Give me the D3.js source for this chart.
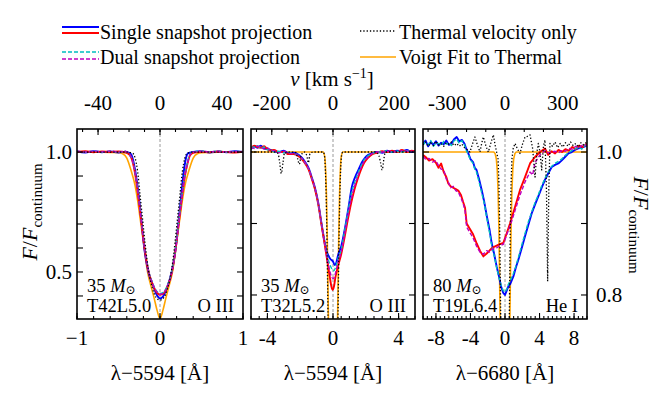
<!DOCTYPE html>
<html>
<head>
<meta charset="utf-8">
<script src="https://cdn.jsdelivr.net/npm/d3@7"></script>
<style>
  body { margin: 0; background: #fff; }
</style>
</head>
<body>
<div id="chart"></div>
<script>
// ---- datos ([Δλ en Å, F/Fcont]) ----

// Panel 1: O III, T42L5.0
const p1Blue = [[-1,1.002],[-0.9,0.998],[-0.8,1.003],[-0.7,0.999],[-0.6,1.002],[-0.5,0.998],[-0.42,1.001],[-0.36,0.995],[-0.34,0.985],[-0.30,0.925],[-0.25,0.80],[-0.22,0.70],[-0.19,0.60],[-0.14,0.50],[-0.08,0.44],[-0.04,0.405],[0,0.39],[0.04,0.40],[0.08,0.43],[0.14,0.50],[0.19,0.60],[0.22,0.70],[0.25,0.80],[0.28,0.90],[0.31,0.97],[0.34,0.995],[0.4,1.0],[0.5,1.003],[0.6,0.998],[0.7,1.002],[0.8,0.999],[0.9,1.003],[1,1.0]];
const p1Red = [[-1,1.0],[-0.9,1.003],[-0.8,0.999],[-0.7,1.002],[-0.6,1.0],[-0.5,1.002],[-0.42,0.998],[-0.37,0.99],[-0.33,0.96],[-0.30,0.91],[-0.26,0.81],[-0.225,0.71],[-0.19,0.61],[-0.15,0.52],[-0.09,0.45],[-0.04,0.415],[0,0.405],[0.04,0.41],[0.09,0.44],[0.15,0.51],[0.19,0.60],[0.225,0.70],[0.26,0.80],[0.30,0.90],[0.33,0.95],[0.36,0.985],[0.4,0.997],[0.5,1.001],[0.6,0.999],[0.7,1.002],[0.8,1.0],[0.9,0.998],[1,1.001]];
const p1Cyan = [[-1,1.004],[-0.9,0.999],[-0.8,1.004],[-0.7,1.0],[-0.6,1.003],[-0.5,0.999],[-0.42,1.002],[-0.37,0.99],[-0.33,0.962],[-0.30,0.915],[-0.26,0.815],[-0.225,0.715],[-0.19,0.615],[-0.15,0.525],[-0.09,0.455],[-0.04,0.42],[0,0.41],[0.04,0.415],[0.09,0.445],[0.15,0.515],[0.19,0.605],[0.225,0.705],[0.26,0.805],[0.30,0.905],[0.33,0.955],[0.36,0.99],[0.4,1.0],[0.5,1.004],[0.6,1.0],[0.7,1.004],[0.8,0.999],[0.9,1.003],[1,1.0]];
const p1Magenta = [[-1,1.003],[-0.9,1.0],[-0.8,1.004],[-0.7,1.001],[-0.6,1.004],[-0.5,1.0],[-0.42,1.003],[-0.37,0.991],[-0.33,0.961],[-0.30,0.912],[-0.26,0.812],[-0.225,0.712],[-0.19,0.612],[-0.15,0.522],[-0.09,0.452],[-0.04,0.418],[0,0.407],[0.04,0.412],[0.09,0.442],[0.15,0.512],[0.19,0.602],[0.225,0.702],[0.26,0.802],[0.30,0.902],[0.33,0.952],[0.36,0.987],[0.4,0.999],[0.5,1.003],[0.6,1.001],[0.7,1.003],[0.8,1.0],[0.9,1.002],[1,1.001]];
const p1Thermal = [[-1,1.0],[-0.5,1.0],[-0.4,1.0],[-0.33,0.995],[-0.30,0.975],[-0.27,0.92],[-0.24,0.82],[-0.21,0.72],[-0.18,0.62],[-0.14,0.51],[-0.09,0.43],[-0.05,0.395],[0,0.383],[0.05,0.395],[0.09,0.43],[0.14,0.51],[0.18,0.62],[0.21,0.72],[0.24,0.82],[0.27,0.92],[0.30,0.975],[0.33,0.995],[0.4,1.0],[0.5,1.0],[1,1.0]];
const p1Voigt = [[-1,1.0],[-0.7,0.999],[-0.6,0.998],[-0.5,0.997],[-0.45,0.993],[-0.4,0.975],[-0.35,0.925],[-0.30,0.86],[-0.27,0.80],[-0.23,0.70],[-0.19,0.60],[-0.15,0.50],[-0.10,0.43],[-0.07,0.39],[-0.035,0.34],[0,0.305],[0.035,0.34],[0.07,0.39],[0.10,0.43],[0.15,0.50],[0.19,0.60],[0.23,0.70],[0.27,0.80],[0.30,0.86],[0.35,0.925],[0.4,0.975],[0.45,0.993],[0.5,0.997],[0.6,0.998],[0.7,0.999],[1,1.0]];

// Panel 2: O III, T32L5.2
const p2Blue = [[-5,1.004],[-4.8,1.008],[-4.6,1.006],[-4.4,1.009],[-4.2,1.005],[-4.0,1.004],[-3.8,1.003],[-3.6,1.001],[-3.3,1.0],[-3.0,1.002],[-2.7,0.998],[-2.4,0.999],[-2.1,0.996],[-1.9,0.992],[-1.7,0.986],[-1.5,0.978],[-1.3,0.965],[-1.1,0.95],[-0.9,0.929],[-0.7,0.90],[-0.5,0.873],[-0.4,0.862],[-0.3,0.856],[-0.15,0.85],[0,0.847],[0.1,0.842],[0.2,0.845],[0.3,0.855],[0.5,0.868],[0.75,0.896],[0.95,0.923],[1.15,0.951],[1.35,0.965],[1.55,0.975],[1.75,0.985],[1.95,0.992],[2.15,0.996],[2.35,0.998],[2.7,1.0],[3.0,0.999],[3.3,1.002],[3.6,1.0],[3.9,1.002],[4.2,1.001],[4.5,1.003],[4.8,1.0],[5,1.001]];
const p2Red = [[-5,1.005],[-4.8,1.009],[-4.6,1.007],[-4.4,1.006],[-4.2,1.008],[-4.0,1.004],[-3.8,1.002],[-3.6,1.003],[-3.3,1.0],[-3.0,1.0],[-2.7,0.997],[-2.4,0.997],[-2.1,0.994],[-1.9,0.99],[-1.7,0.984],[-1.5,0.976],[-1.3,0.963],[-1.1,0.948],[-0.9,0.927],[-0.7,0.898],[-0.5,0.87],[-0.35,0.848],[-0.2,0.826],[-0.1,0.812],[-0.02,0.807],[0.06,0.812],[0.15,0.825],[0.3,0.84],[0.5,0.857],[0.7,0.88],[0.9,0.905],[1.1,0.928],[1.3,0.947],[1.5,0.962],[1.7,0.975],[1.9,0.985],[2.1,0.991],[2.4,0.997],[2.7,0.999],[3.0,1.001],[3.3,1.0],[3.6,1.002],[3.9,1.0],[4.2,1.003],[4.5,1.0],[4.8,1.002],[5,1.001]];
const p2Cyan = [[-5,1.006],[-4.8,1.007],[-4.6,1.009],[-4.4,1.005],[-4.2,1.007],[-4.0,1.003],[-3.8,1.004],[-3.6,1.0],[-3.3,1.001],[-3.0,0.999],[-2.7,0.999],[-2.4,0.998],[-2.1,0.995],[-1.9,0.991],[-1.7,0.985],[-1.5,0.977],[-1.3,0.964],[-1.1,0.949],[-0.9,0.928],[-0.7,0.899],[-0.5,0.871],[-0.35,0.855],[-0.2,0.843],[-0.05,0.836],[0.05,0.834],[0.15,0.838],[0.3,0.85],[0.5,0.863],[0.7,0.888],[0.9,0.914],[1.1,0.94],[1.3,0.956],[1.5,0.969],[1.7,0.98],[1.9,0.989],[2.1,0.994],[2.4,0.998],[2.7,1.0],[3.0,1.0],[3.3,1.002],[3.6,1.0],[3.9,1.001],[4.2,1.0],[4.5,1.002],[4.8,1.0],[5,1.0]];
const p2Magenta = [[-5,1.007],[-4.8,1.005],[-4.6,1.008],[-4.4,1.007],[-4.2,1.004],[-4.0,1.006],[-3.8,1.002],[-3.6,1.002],[-3.3,0.999],[-3.0,1.001],[-2.7,0.998],[-2.4,0.998],[-2.1,0.995],[-1.9,0.991],[-1.7,0.985],[-1.5,0.977],[-1.3,0.964],[-1.1,0.949],[-0.9,0.928],[-0.7,0.899],[-0.5,0.87],[-0.35,0.85],[-0.2,0.834],[-0.08,0.825],[0.02,0.823],[0.12,0.828],[0.3,0.845],[0.5,0.86],[0.7,0.884],[0.9,0.909],[1.1,0.933],[1.3,0.951],[1.5,0.965],[1.7,0.977],[1.9,0.987],[2.1,0.992],[2.4,0.998],[2.7,1.0],[3.0,1.0],[3.3,1.001],[3.6,1.001],[3.9,1.0],[4.2,1.002],[4.5,1.001],[4.8,1.001],[5,1.0]];
const p2Thermal = [[-5,1.0],[-4.5,1.0],[-3.6,1.0],[-3.35,0.998],[-3.25,0.985],[-3.15,0.97],[-3.05,0.985],[-2.95,0.999],[-2.6,1.0],[-2.25,0.999],[-2.15,0.99],[-2.05,0.983],[-1.95,0.995],[-1.75,1.0],[-1.6,0.995],[-1.5,0.985],[-1.4,0.998],[-1.2,1.0],[-0.6,1.0],[-0.55,0.998],[-0.5,0.99],[-0.45,0.965],[-0.4,0.92],[-0.35,0.85],[-0.3,0.76],[-0.2,0.55],[0,0.35],[0.2,0.55],[0.3,0.76],[0.35,0.85],[0.4,0.92],[0.45,0.965],[0.5,0.99],[0.55,0.998],[0.6,1.0],[2.6,1.0],[2.8,0.995],[2.9,0.985],[3.0,0.975],[3.1,0.99],[3.2,1.0],[5,1.0]];
const p2Voigt = [[-5,1.0],[-0.6,1.0],[-0.5,0.993],[-0.45,0.975],[-0.4,0.94],[-0.35,0.88],[-0.3,0.8],[-0.25,0.72],[-0.15,0.55],[0,0.4],[0.15,0.55],[0.25,0.72],[0.3,0.8],[0.35,0.88],[0.4,0.94],[0.45,0.975],[0.5,0.993],[0.6,1.0],[5,1.0]];

// Panel 3: He I, T19L6.4
const p3Blue = [[-9.5,1.012],[-9.2,1.016],[-8.9,1.008],[-8.6,1.014],[-8.3,1.01],[-8.0,1.015],[-7.7,1.009],[-7.4,1.013],[-7.1,1.011],[-6.8,1.016],[-6.5,1.01],[-6.2,1.012],[-5.9,1.018],[-5.6,1.021],[-5.3,1.015],[-5.0,1.017],[-4.7,1.012],[-4.5,1.005],[-4.25,0.998],[-4.0,0.99],[-3.7,0.986],[-3.5,0.978],[-3.3,0.975],[-3.0,0.962],[-2.7,0.947],[-2.4,0.93],[-2.1,0.91],[-1.8,0.892],[-1.55,0.873],[-1.25,0.857],[-0.97,0.84],[-0.7,0.826],[-0.46,0.812],[-0.2,0.803],[0,0.80],[0.2,0.806],[0.39,0.812],[0.6,0.815],[0.97,0.826],[1.25,0.838],[1.54,0.849],[1.9,0.864],[2.32,0.882],[2.7,0.898],[3.09,0.914],[3.5,0.927],[3.86,0.938],[4.25,0.95],[4.63,0.961],[5.0,0.97],[5.41,0.979],[5.8,0.982],[6.18,0.984],[6.55,0.988],[6.95,0.993],[7.35,0.998],[7.73,1.0],[8.1,1.003],[8.49,1.005],[8.9,1.006],[9.27,1.008],[9.5,1.009]];
const p3Red = [[-9.5,0.996],[-9.2,0.993],[-8.8,0.988],[-8.4,0.99],[-8.0,0.985],[-7.7,0.978],[-7.4,0.984],[-7.1,0.972],[-6.8,0.965],[-6.57,0.956],[-6.3,0.952],[-6.0,0.95],[-5.7,0.948],[-5.41,0.946],[-5.1,0.94],[-4.85,0.93],[-4.63,0.922],[-4.44,0.90],[-4.1,0.893],[-3.7,0.885],[-3.28,0.872],[-2.9,0.862],[-2.51,0.854],[-2.12,0.858],[-1.8,0.862],[-1.5,0.866],[-0.97,0.869],[-0.6,0.871],[-0.19,0.873],[0.19,0.886],[0.58,0.90],[1.16,0.923],[1.74,0.947],[2.32,0.965],[2.9,0.984],[3.48,0.993],[4.05,1.0],[4.63,1.005],[5.0,0.996],[5.4,1.001],[5.8,0.998],[6.2,1.003],[6.6,1.0],[7.0,1.004],[7.4,1.002],[7.8,1.007],[8.2,1.004],[8.6,1.009],[9.0,1.007],[9.5,1.012]];
const p3Cyan = [[-9.5,1.01],[-9.2,1.014],[-8.9,1.01],[-8.6,1.016],[-8.3,1.008],[-8.0,1.012],[-7.7,1.012],[-7.4,1.009],[-7.1,1.015],[-6.8,1.011],[-6.5,1.013],[-6.2,1.009],[-5.9,1.016],[-5.6,1.018],[-5.3,1.012],[-5.0,1.016],[-4.7,1.01],[-4.5,1.003],[-4.25,0.996],[-4.0,0.989],[-3.7,0.984],[-3.5,0.976],[-3.3,0.972],[-3.0,0.958],[-2.7,0.943],[-2.4,0.928],[-2.1,0.907],[-1.8,0.888],[-1.55,0.87],[-1.25,0.855],[-0.97,0.838],[-0.7,0.825],[-0.46,0.814],[-0.2,0.806],[0,0.804],[0.2,0.808],[0.39,0.815],[0.6,0.82],[0.97,0.83],[1.25,0.84],[1.54,0.852],[1.9,0.868],[2.32,0.886],[2.7,0.902],[3.09,0.916],[3.5,0.93],[3.86,0.94],[4.25,0.953],[4.63,0.963],[5.0,0.972],[5.41,0.98],[5.8,0.984],[6.18,0.987],[6.55,0.99],[6.95,0.995],[7.35,0.999],[7.73,1.002],[8.1,1.004],[8.49,1.007],[8.9,1.004],[9.27,1.01],[9.5,1.007]];
const p3Magenta = [[-9.5,0.994],[-9.2,0.99],[-8.8,0.991],[-8.4,0.986],[-8.0,0.988],[-7.7,0.981],[-7.4,0.976],[-7.1,0.975],[-6.8,0.962],[-6.57,0.958],[-6.3,0.95],[-6.0,0.952],[-5.7,0.946],[-5.41,0.944],[-5.1,0.936],[-4.85,0.928],[-4.63,0.918],[-4.44,0.895],[-4.1,0.888],[-3.7,0.88],[-3.28,0.868],[-2.9,0.86],[-2.51,0.857],[-2.12,0.862],[-1.8,0.86],[-1.5,0.864],[-0.97,0.866],[-0.6,0.869],[-0.19,0.871],[0.19,0.884],[0.58,0.896],[1.16,0.918],[1.74,0.94],[2.32,0.958],[2.9,0.972],[3.2,0.968],[3.48,0.985],[4.05,0.996],[4.63,1.002],[5.0,0.999],[5.4,1.0],[5.8,1.001],[6.2,0.999],[6.6,1.002],[7.0,1.001],[7.4,1.005],[7.8,1.004],[8.2,1.008],[8.6,1.006],[9.0,1.01],[9.5,1.009]];
const p3Thermal = [[-9.5,1.01],[-9.2,1.014],[-8.9,1.008],[-8.6,1.013],[-8.3,1.009],[-8.0,1.015],[-7.7,1.01],[-7.4,1.012],[-7.1,1.008],[-6.8,1.013],[-6.5,1.011],[-6.2,1.014],[-5.9,1.009],[-5.6,1.012],[-5.3,1.008],[-5.0,1.011],[-4.7,1.006],[-4.35,1.003],[-4.06,1.0],[-3.75,1.012],[-3.48,1.021],[-3.2,1.01],[-2.9,1.0],[-2.7,1.012],[-2.51,1.021],[-2.2,1.008],[-1.93,1.0],[-1.65,1.012],[-1.35,1.024],[-1.15,1.01],[-0.97,1.0],[-0.8,0.99],[-0.7,0.955],[-0.6,0.88],[-0.5,0.77],[-0.3,0.55],[0,0.4],[0.3,0.55],[0.5,0.77],[0.6,0.88],[0.7,0.955],[0.8,0.99],[0.95,1.005],[1.16,1.012],[1.45,1.004],[1.74,0.998],[2.0,1.01],[2.32,1.021],[2.6,1.022],[2.9,1.024],[3.2,1.005],[3.48,0.965],[3.7,1.0],[3.86,1.012],[4.05,1.0],[4.25,0.975],[4.45,1.008],[4.63,1.017],[4.8,0.95],[4.94,0.819],[5.08,0.95],[5.21,1.012],[5.5,1.008],[5.8,1.014],[6.1,1.006],[6.4,1.012],[6.7,1.007],[7.0,1.013],[7.3,1.008],[7.6,1.014],[7.9,1.009],[8.2,1.012],[8.5,1.007],[8.8,1.013],[9.1,1.01],[9.5,1.014]];
const p3Voigt = [[-9.5,1.0],[-1.3,1.0],[-1.15,0.998],[-1.0,0.99],[-0.9,0.975],[-0.8,0.945],[-0.7,0.89],[-0.6,0.8],[-0.5,0.7],[-0.3,0.52],[0,0.4],[0.3,0.52],[0.5,0.7],[0.6,0.8],[0.7,0.89],[0.8,0.945],[0.9,0.975],[1.0,0.99],[1.15,0.998],[1.3,1.0],[9.5,1.0]];

// ticks
const p1BottomTicks = [-1, 0, 1];
const p1BottomLabels = ['\u22121', '0', '1'];
const p1TopTicks = [-40, 0, 40];
const p1YTicks = [0.4, 0.5, 0.6, 0.7, 0.8, 0.9, 1.0];
const p1YLabels = [0.5, 1.0];
const p2BottomTicks = [-4, 0, 4];
const p2TopTicks = [-200, 0, 200];
const p3BottomTicks = [-8, -4, 0, 4, 8];
const p3TopTicks = [-300, 0, 300];
const p23YTicks = [0.8, 0.9, 1.0];
const p3YLabels = [0.8, 1.0];

const C_KMS = 299792.458;
const FONT = "'Liberation Serif', 'DejaVu Serif', 'Times New Roman', serif";

const width = 664, height = 399;
const plotTop = 129, plotBottom = 319;

const panels = [
  { left: 77, right: 243, lambda0: 5594, xDomain: [-1, 1], yDomain: [0.304, 1.096],
    series: [p1Blue, p1Red, p1Cyan, p1Magenta, p1Thermal, p1Voigt],
    xTicks: p1BottomTicks, xLabels: p1BottomLabels, xMinor: d3.range(-1, 1.001, 0.2),
    vTicks: p1TopTicks, vMinor: d3.range(-50, 51, 10),
    yTicks: p1YTicks,
    mass: '35', model: 'T42L5.0', ion: 'O III', curve: d3.curveMonotoneX },
  { left: 251, right: 415, lambda0: 5594, xDomain: [-5, 5], yDomain: [0.7664, 1.0322],
    series: [p2Blue, p2Red, p2Cyan, p2Magenta, p2Thermal, p2Voigt],
    xTicks: p2BottomTicks, xLabels: ['-4', '0', '4'], xMinor: d3.range(-5, 5.01, 0.5),
    vTicks: p2TopTicks, vMinor: d3.range(-250, 251, 50),
    yTicks: p23YTicks,
    mass: '35', model: 'T32L5.2', ion: 'O III', curve: d3.curveMonotoneX },
  { left: 423, right: 587, lambda0: 6680, xDomain: [-9.5, 9.5], yDomain: [0.7664, 1.0322],
    series: [p3Blue, p3Red, p3Cyan, p3Magenta, p3Thermal, p3Voigt],
    xTicks: p3BottomTicks, xLabels: ['-8', '-4', '0', '4', '8'], xMinor: d3.range(-9.5, 9.51, 0.5),
    vTicks: p3TopTicks, vMinor: d3.range(-400, 401, 100),
    yTicks: p23YTicks,
    mass: '80', model: 'T19L6.4', ion: 'He I', curve: d3.curveLinear }
];

// estilos de cada serie
const styles = [
  { color: '#0000ff', width: 1.9, dash: null },      // single 1
  { color: '#ff0000', width: 1.9, dash: null },      // single 2
  { color: '#00bfbf', width: 1.4, dash: '4,2' },     // dual 1
  { color: '#bf00bf', width: 1.4, dash: '4,2' },     // dual 2
  { color: '#000000', width: 1.3, dash: '1.3,2' },   // thermal
  { color: '#ffa500', width: 1.6, dash: null }       // voigt
];
const drawOrder = [5, 0, 1, 2, 3, 4];

const svg = d3.select('#chart').append('svg')
  .attr('width', width)
  .attr('height', height)
  .attr('font-family', FONT)
  .style('font-family', FONT);

const tickFont = 21;

panels.forEach((p, i) => {
  const x = d3.scaleLinear().domain(p.xDomain).range([p.left, p.right]);
  const y = d3.scaleLinear().domain(p.yDomain).range([plotBottom, plotTop]);
  const v = d3.scaleLinear()
    .domain(p.xDomain.map(d => d / p.lambda0 * C_KMS))
    .range([p.left, p.right]);

  const clipId = 'clip' + i;
  svg.append('clipPath').attr('id', clipId)
    .append('rect')
    .attr('x', p.left).attr('y', plotTop)
    .attr('width', p.right - p.left).attr('height', plotBottom - plotTop);

  const g = svg.append('g').attr('clip-path', `url(#${clipId})`);

  // línea central
  g.append('line')
    .attr('x1', x(0)).attr('x2', x(0))
    .attr('y1', plotTop).attr('y2', plotBottom)
    .attr('stroke', '#808080')
    .attr('stroke-width', 0.8)
    .attr('stroke-dasharray', '3,2');

  const line = d3.line()
    .x(d => x(d[0]))
    .y(d => y(d[1]))
    .curve(p.curve);

  drawOrder.forEach(k => {
    const s = styles[k];
    g.append('path')
      .datum(p.series[k])
      .attr('d', line)
      .attr('fill', 'none')
      .attr('stroke', s.color)
      .attr('stroke-width', s.width)
      .attr('stroke-dasharray', s.dash)
      .attr('stroke-linejoin', 'round');
  });

  // marco
  svg.append('rect')
    .attr('x', p.left).attr('y', plotTop)
    .attr('width', p.right - p.left).attr('height', plotBottom - plotTop)
    .attr('fill', 'none')
    .attr('stroke', '#000')
    .attr('stroke-width', 1.6);

  const ticks = svg.append('g').attr('stroke', '#000').attr('stroke-width', 1.1);

  p.xMinor.forEach(t => {
    ticks.append('line').attr('x1', x(t)).attr('x2', x(t)).attr('y1', plotBottom).attr('y2', plotBottom - 3);
  });
  p.xTicks.forEach(t => {
    ticks.append('line').attr('x1', x(t)).attr('x2', x(t)).attr('y1', plotBottom).attr('y2', plotBottom - 6);
  });
  p.vMinor.filter(t => v(t) > p.left && v(t) < p.right).forEach(t => {
    ticks.append('line').attr('x1', v(t)).attr('x2', v(t)).attr('y1', plotTop).attr('y2', plotTop + 3);
  });
  p.vTicks.forEach(t => {
    ticks.append('line').attr('x1', v(t)).attr('x2', v(t)).attr('y1', plotTop).attr('y2', plotTop + 6);
  });
  p.yTicks.forEach(t => {
    ticks.append('line').attr('x1', p.left).attr('x2', p.left + 6).attr('y1', y(t)).attr('y2', y(t));
    ticks.append('line').attr('x1', p.right).attr('x2', p.right - 6).attr('y1', y(t)).attr('y2', y(t));
  });

  p.xTicks.forEach((t, j) => {
    svg.append('text')
      .attr('x', x(t)).attr('y', 345)
      .attr('text-anchor', 'middle')
      .attr('font-size', tickFont)
      .text(p.xLabels[j]);
  });
  p.vTicks.forEach(t => {
    svg.append('text')
      .attr('x', v(t)).attr('y', 110)
      .attr('text-anchor', 'middle')
      .attr('font-size', tickFont)
      .text(String(t));
  });

  if (i === 0) {
    p1YLabels.forEach(t => {
      svg.append('text')
        .attr('x', p.left - 5).attr('y', y(t) + 7)
        .attr('text-anchor', 'end')
        .attr('font-size', tickFont)
        .text(t.toFixed(1));
    });
  }
  if (i === 2) {
    p3YLabels.forEach(t => {
      svg.append('text')
        .attr('x', p.right + 9).attr('y', y(t) + 7)
        .attr('text-anchor', 'start')
        .attr('font-size', tickFont)
        .text(t.toFixed(1));
    });
  }

  // anotaciones
  const m = svg.append('text')
    .attr('x', p.left + 10).attr('y', 292)
    .attr('font-size', 18.5);
  m.append('tspan').text(p.mass + ' ');
  m.append('tspan').attr('font-style', 'italic').text('M');
  m.append('tspan').attr('font-size', 12).attr('dy', 2).text('\u2299');

  svg.append('text')
    .attr('x', p.left + 10).attr('y', 312)
    .attr('font-size', 18.5)
    .text(p.model);

  svg.append('text')
    .attr('x', p.right - 9).attr('y', 312)
    .attr('text-anchor', 'end')
    .attr('font-size', 18.5)
    .text(p.ion);

  svg.append('text')
    .attr('x', (p.left + p.right) / 2).attr('y', 380)
    .attr('text-anchor', 'middle')
    .attr('font-size', 21)
    .text('\u03bb\u2212' + p.lambda0 + ' [\u00c5]');
});

// etiqueta eje superior
const vl = svg.append('text')
  .attr('x', 332).attr('y', 86)
  .attr('text-anchor', 'middle')
  .attr('font-size', 21);
vl.append('tspan').attr('font-style', 'italic').text('v');
vl.append('tspan').text(' [km s');
vl.append('tspan').attr('font-size', 14).attr('dy', -8).text('\u22121');
vl.append('tspan').attr('dy', 8).text(']');

// etiquetas eje y
function yLabel(xp, yp, rot) {
  const t = svg.append('text')
    .attr('transform', `translate(${xp},${yp}) rotate(${rot})`)
    .attr('text-anchor', 'middle')
    .attr('font-size', 22);
  t.append('tspan').attr('font-style', 'italic').text('F');
  t.append('tspan').text('/');
  t.append('tspan').attr('font-style', 'italic').text('F');
  t.append('tspan').attr('font-size', 15).attr('dy', 5).text('continuum');
}
yLabel(37, 212, -90);
yLabel(634, 225, 90);

// leyenda
const legend = svg.append('g');
function legLine(x1, x2, yy, s) {
  legend.append('line')
    .attr('x1', x1).attr('x2', x2).attr('y1', yy).attr('y2', yy)
    .attr('stroke', s.color)
    .attr('stroke-width', s.width)
    .attr('stroke-dasharray', s.dash);
}
legLine(62, 99, 27, styles[0]);
legLine(62, 99, 33, styles[1]);
legLine(62, 99, 52, styles[2]);
legLine(62, 99, 59, styles[3]);
legLine(360, 396, 31, styles[4]);
legLine(360, 396, 57, styles[5]);

const legendItems = [
  { x: 100, y: 39, label: 'Single snapshot projection' },
  { x: 100, y: 64, label: 'Dual snapshot projection' },
  { x: 399, y: 39, label: 'Thermal velocity only' },
  { x: 399, y: 64, label: 'Voigt Fit to Thermal' }
];
legendItems.forEach(d => {
  legend.append('text')
    .attr('x', d.x).attr('y', d.y)
    .attr('font-size', 20)
    .text(d.label);
});
</script>
</body>
</html>
